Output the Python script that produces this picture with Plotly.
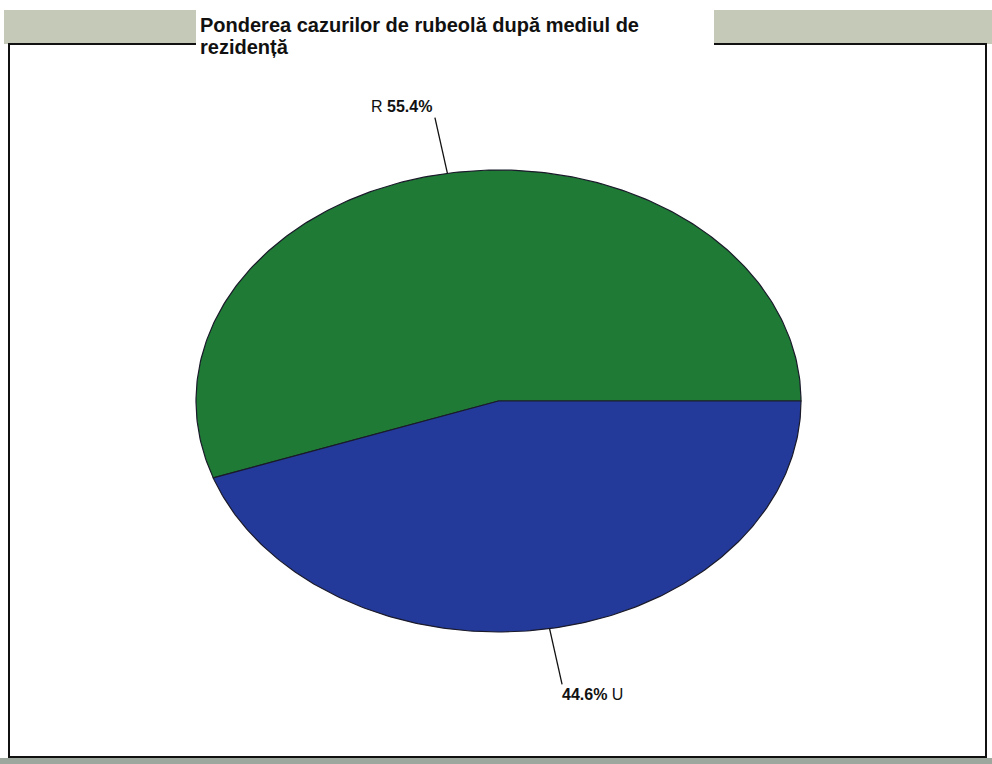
import numpy as np
import plotly.graph_objects as go

# ---- data ----
categories = ["R", "U"]
values = [55.4, 44.6]
colors = ["#1f7a36", "#233a9b"]
title_lines = ["Ponderea cazurilor de rubeolă după mediul de", "rezidență"]

W, H = 992, 764
CX, CY, RX, RY = 498.5, 401.0, 302.5, 231.0  # ellipse placement in pixels
FONT = "Liberation Sans, Arial"


def px_x(p):
    return p / W


def px_y(p):
    return 1 - p / H


fig = go.Figure()

total = sum(values)
start = 0.0  # degrees, counter-clockwise from 3 o'clock
mids = []
for cat, val, col in zip(categories, values, colors):
    span = 360.0 * val / total
    th = np.radians(np.linspace(start, start + span, 240))
    xs = np.concatenate([[0], np.cos(th), [0]])
    ys = np.concatenate([[0], np.sin(th), [0]])
    fig.add_trace(go.Scatter(x=xs, y=ys, fill="toself", fillcolor=col, mode="lines",
                             line=dict(color="#1a1a2a", width=1.2), name=cat,
                             hoverinfo="name", showlegend=False))
    mids.append(np.radians(start + span / 2))
    start += span

# leader lines and labels
r0, r1 = 1.0, 1.245
for cat, val, m in zip(categories, values, mids):
    xa, ya = r0 * np.cos(m), r0 * np.sin(m)
    xb, yb = r1 * np.cos(m), r1 * np.sin(m)
    fig.add_trace(go.Scatter(x=[xa, xb], y=[ya, yb], mode="lines",
                             line=dict(color="#111111", width=1.3),
                             hoverinfo="skip", showlegend=False))
    if np.sin(m) >= 0:
        fig.add_annotation(x=xb, y=yb, text=f"{cat} <b>{val:.1f}%</b>", showarrow=False,
                           xanchor="right", yanchor="bottom", xshift=-1, yshift=1,
                           font=dict(family=FONT, size=16, color="#111"))
    else:
        fig.add_annotation(x=xb, y=yb, text=f"<b>{val:.1f}%</b> {cat}", showarrow=False,
                           xanchor="left", yanchor="top", xshift=-2, yshift=0,
                           font=dict(family=FONT, size=16, color="#111"))

# decorative page elements (paper coordinates)
shapes = [
    dict(type="rect", xref="paper", yref="paper", x0=px_x(4), x1=px_x(992), y0=px_y(44), y1=px_y(10),
         fillcolor="#c5c9b7", line=dict(width=0), layer="below"),
    dict(type="rect", xref="paper", yref="paper", x0=px_x(0), x1=px_x(992), y0=px_y(764), y1=px_y(758),
         fillcolor="#9ea79e", line=dict(width=0), layer="below"),
    dict(type="rect", xref="paper", yref="paper", x0=px_x(9), x1=px_x(986), y0=px_y(757), y1=px_y(44),
         fillcolor="rgba(0,0,0,0)", line=dict(color="#111111", width=2), layer="below"),
    dict(type="rect", xref="paper", yref="paper", x0=px_x(196), x1=px_x(714), y0=px_y(47), y1=px_y(10),
         fillcolor="white", line=dict(width=0), layer="below"),
]

for i, line in enumerate(title_lines):
    fig.add_annotation(xref="paper", yref="paper", x=px_x(199), y=px_y(37 + 22 * i),
                       xanchor="left", yanchor="bottom", align="left", showarrow=False,
                       text=f"<b>{line}</b>", borderpad=0,
                       font=dict(family=FONT, size=20, color="#111"))

fig.update_layout(
    width=W, height=H, margin=dict(l=0, r=0, t=0, b=0),
    paper_bgcolor="white", plot_bgcolor="rgba(0,0,0,0)",
    xaxis=dict(range=[-CX / RX, (W - CX) / RX], visible=False, fixedrange=True, domain=[0, 1]),
    yaxis=dict(range=[(CY - H) / RY, CY / RY], visible=False, fixedrange=True, domain=[0, 1]),
    shapes=shapes,
    showlegend=False,
)

fig.write_html("out.html", config={"displayModeBar": False},
               post_script="document.body.style.margin='0';")
